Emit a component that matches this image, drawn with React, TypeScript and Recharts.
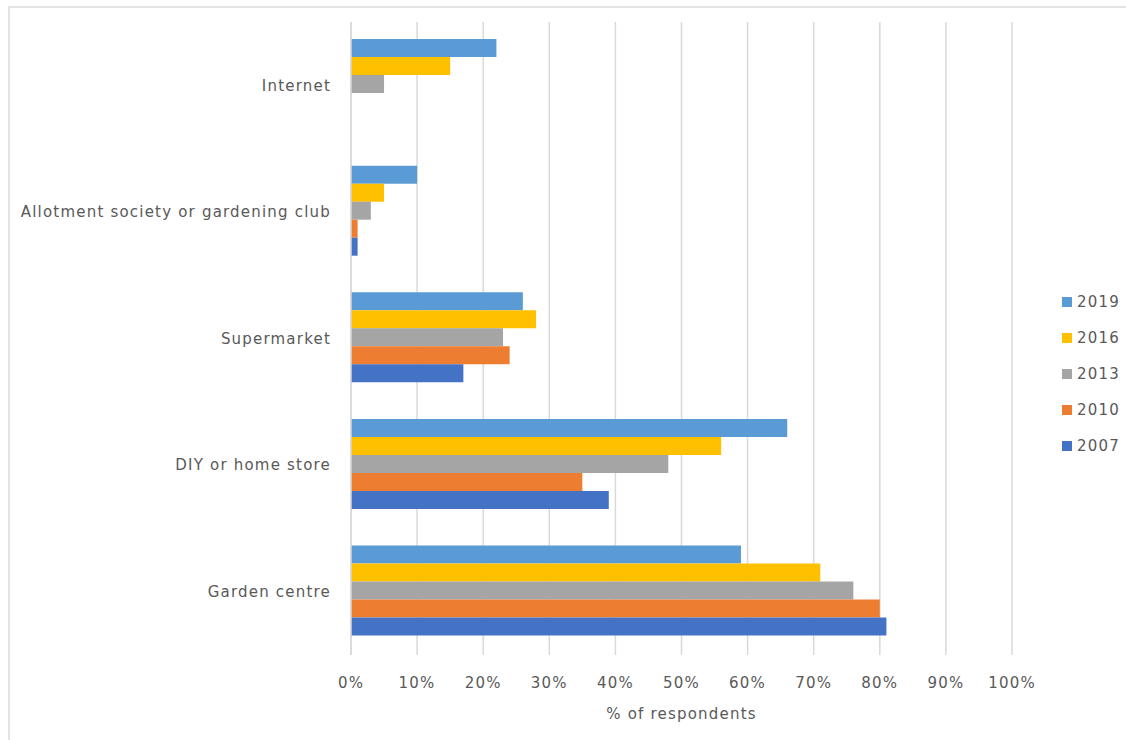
import { BarChart, Bar, XAxis, YAxis, CartesianGrid, Label } from "recharts";

const categories = [
  "Internet",
  "Allotment society or gardening club",
  "Supermarket",
  "DIY or home store",
  "Garden centre",
];

// values in % of respondents, same order as categories
const y2019 = [22, 10, 26, 66, 59];
const y2016 = [15, 5, 28, 56, 71];
const y2013 = [5, 3, 23, 48, 76];
const y2010 = [0, 1, 24, 35, 80];
const y2007 = [0, 1, 17, 39, 81];

const xTicks = [0, 10, 20, 30, 40, 50, 60, 70, 80, 90, 100];

const series = [
  { key: "2019", values: y2019, color: "#5B9BD5" },
  { key: "2016", values: y2016, color: "#FFC000" },
  { key: "2013", values: y2013, color: "#A5A5A5" },
  { key: "2010", values: y2010, color: "#ED7D31" },
  { key: "2007", values: y2007, color: "#4472C4" },
];

const data = categories.map((name, i) => {
  const row: any = { name };
  series.forEach((s) => (row[s.key] = s.values[i]));
  return row;
});

const FONT = "'DejaVu Sans', sans-serif";
const TEXT = "#595959";
const textStyle = { fontSize: 15, fill: TEXT, fontFamily: FONT, letterSpacing: 1.2 };

export default function App() {
  return (
    <div
      style={{
        position: "fixed", left: 0, top: 0, width: 1126, height: 740,
        background: "#fff", fontFamily: FONT, overflow: "hidden",
      }}
    >
      <div
        style={{
          position: "absolute", left: 8, top: 6, width: 1130, height: 740,
          border: "2px solid #E4E4E4", boxSizing: "border-box",
        }}
      />
      <div style={{ position: "absolute", left: 0, top: 0 }}>
        <BarChart
          width={1126}
          height={740}
          data={data}
          layout="vertical"
          margin={{ top: 22, right: 114, bottom: 0, left: 0 }}
          barCategoryGap="13.5%"
          barGap={0}
        >
          <CartesianGrid horizontal={false} stroke="#D9D9D9" strokeWidth={1.5} />
          <XAxis
            type="number"
            domain={[0, 100]}
            ticks={xTicks}
            tickFormatter={(v) => `${v}%`}
            axisLine={false}
            tickLine={false}
            tickSize={0}
            tickMargin={22}
            height={85}
            tick={textStyle}
            interval={0}
          >
            <Label value="% of respondents" position="insideBottom" offset={21} style={textStyle} />
          </XAxis>
          <YAxis
            type="category"
            dataKey="name"
            width={351}
            axisLine={{ stroke: "#D9D9D9", strokeWidth: 1.5 }}
            tickLine={false}
            tickSize={0}
            tickMargin={20}
            tick={textStyle}
            interval={0}
          />
          {series.map((s) => (
            <Bar key={s.key} dataKey={s.key} fill={s.color} isAnimationActive={false} />
          ))}
        </BarChart>
      </div>
      <div style={{ position: "absolute", left: 1062, top: 284 }}>
        {series.map((s) => (
          <div
            key={s.key}
            style={{
              display: "flex", alignItems: "center", height: 36,
              fontSize: 15, color: TEXT, letterSpacing: 1.2,
            }}
          >
            <span style={{ width: 10, height: 10, background: s.color, marginRight: 5, display: "inline-block" }} />
            {s.key}
          </div>
        ))}
      </div>
    </div>
  );
}
